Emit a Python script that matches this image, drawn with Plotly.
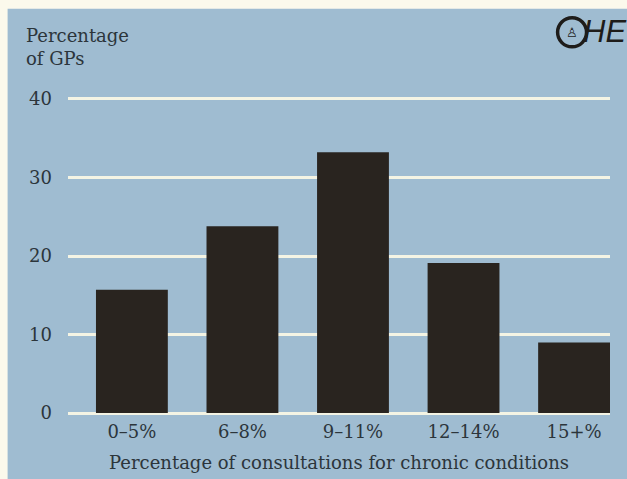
import plotly.graph_objects as go

# Share of GPs by the proportion of their consultations that concern chronic conditions
categories = ["0–5%", "6–8%", "9–11%", "12–14%", "15+%"]
pct_gps = [15.7, 23.8, 33.2, 19.1, 9.0]
y_ticks = [0, 10, 20, 30, 40]

W, H = 627, 479
CREAM = "#fbf9ec"
PANEL = "#9fbcd1"
BAR = "#29241f"
GRID = "#f4f4e4"
INK = "#2c353b"
FONT = "DejaVu Serif"

# plot area in pixels
L, R = 67.5, 610.5
T, B = 95.1, 416.9
M = dict(l=L, r=W - R, t=T, b=H - B, pad=0)


def px_x(px):
    return (px - L) / (R - L)


def px_y(py):
    return (B - py) / (B - T)


fig = go.Figure(
    go.Bar(
        x=list(range(len(categories))),
        y=pct_gps,
        width=0.65,
        marker=dict(color=BAR, line=dict(width=0)),
        hoverinfo="x+y",
    )
)

fig.update_layout(
    width=W,
    height=H,
    margin=M,
    paper_bgcolor=CREAM,
    plot_bgcolor="rgba(0,0,0,0)",
    showlegend=False,
    font=dict(family=FONT, size=18, color=INK),
    xaxis=dict(
        range=[-0.578, 4.325],
        automargin=False,
        tickmode="array",
        tickvals=list(range(len(categories))),
        ticktext=categories,
        showgrid=False,
        zeroline=False,
        showline=False,
        ticks="",
        ticklabelstandoff=2,
        tickfont=dict(family=FONT, size=18, color=INK),
        title=dict(
            text="Percentage of consultations for chronic conditions",
            font=dict(family=FONT, size=18, color=INK),
            standoff=15,
        ),
        fixedrange=True,
    ),
    yaxis=dict(
        range=[-0.5, 40.5],
        automargin=False,
        tickmode="array",
        tickvals=y_ticks,
        showgrid=True,
        gridcolor=GRID,
        gridwidth=3,
        zeroline=False,
        showline=False,
        ticks="",
        ticklabelstandoff=15,
        tickfont=dict(family=FONT, size=18, color=INK),
        fixedrange=True,
    ),
    shapes=[
        # blue panel behind the chart
        dict(type="rect", xref="paper", yref="paper",
             x0=px_x(7), x1=px_x(W + 2), y0=px_y(9), y1=px_y(H + 2),
             fillcolor=PANEL, line=dict(width=0), layer="below"),
        # OHE logo ring
        dict(type="circle", xref="paper", yref="paper",
             x0=px_x(558), x1=px_x(587), y0=px_y(47), y1=px_y(18),
             line=dict(color="#1e1c1a", width=3.5), fillcolor="rgba(0,0,0,0)",
             layer="above"),
    ],
    annotations=[
        dict(text="Percentage<br>of GPs", xref="paper", yref="paper",
             x=px_x(23), y=px_y(23), xanchor="left", yanchor="top",
             align="left", showarrow=False,
             font=dict(family=FONT, size=18, color=INK)),
        dict(text="<i>HE</i>", xref="paper", yref="paper",
             x=px_x(581), y=px_y(32), xanchor="left", yanchor="middle",
             showarrow=False,
             font=dict(family="Liberation Sans", size=31, color="#1e1c1a")),
        dict(text="♙", xref="paper", yref="paper",
             x=px_x(572.5), y=px_y(32.5), xanchor="center", yanchor="middle",
             showarrow=False,
             font=dict(family="DejaVu Sans", size=13, color="#1e1c1a")),
    ],
)

fig.write_html("out.html")
